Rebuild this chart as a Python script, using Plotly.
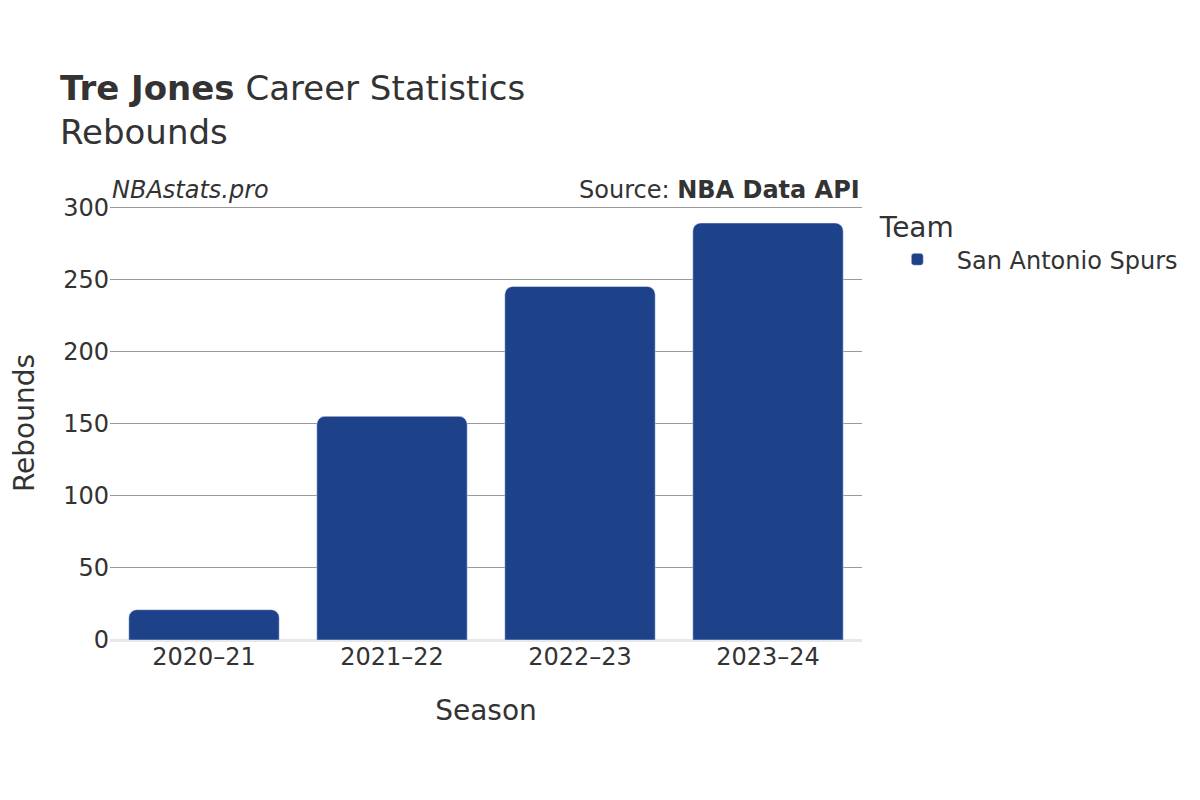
import plotly.graph_objects as go

seasons = ['2020–21', '2021–22', '2022–23', '2023–24']
rebounds = [21, 155, 245, 289]
team = 'San Antonio Spurs'
team_color = '#1d428a'

font_family = 'DejaVu Sans'
text_color = '#333333'

fig = go.Figure()
fig.add_trace(go.Bar(x=seasons, y=rebounds, name=team,
                     marker=dict(color=team_color),
                     showlegend=True))

fig.update_layout(
    width=1200, height=800,
    font=dict(family=font_family, color=text_color, size=24),
    title=dict(text='<b>Tre Jones</b> Career Statistics<br>Rebounds',
               x=0.0433, xanchor='left', y=0.885, yanchor='top',
               font=dict(size=34, color=text_color)),
    margin=dict(l=102, r=346, t=198, b=168),
    plot_bgcolor='white',
    paper_bgcolor='white',
    bargap=0.2,
    barcornerradius=8,
    legend=dict(title=dict(text='Team', font=dict(size=28)),
                x=1.021, xanchor='left', y=1.012, yanchor='top',
                itemwidth=69, font=dict(size=24)),
    xaxis=dict(title=dict(text='Season', font=dict(size=28), standoff=30),
               tickfont=dict(size=24), showgrid=False, ticks='',
               showline=False, automargin=False),
    yaxis=dict(title=dict(text='Rebounds', font=dict(size=28), standoff=30),
               tickfont=dict(size=24), range=[0, 300.8], tickvals=[0, 50, 100, 150, 200, 250, 300],
               showgrid=True, gridcolor='#999999', gridwidth=1,
               zeroline=True, zerolinecolor='#e8e8e8', zerolinewidth=3,
               ticks='', automargin=False),
    annotations=[
        dict(text='<i>NBAstats.pro</i>', xref='paper', yref='paper',
             x=0.0, y=1.0, xanchor='left', yanchor='bottom',
             showarrow=False, font=dict(size=24, color=text_color)),
        dict(text='Source: <b>NBA Data API</b>', xref='paper', yref='paper',
             x=1.0, y=1.0, xanchor='right', yanchor='bottom',
             showarrow=False, font=dict(size=24, color=text_color)),
    ],
)

fig.write_html('out.html')
